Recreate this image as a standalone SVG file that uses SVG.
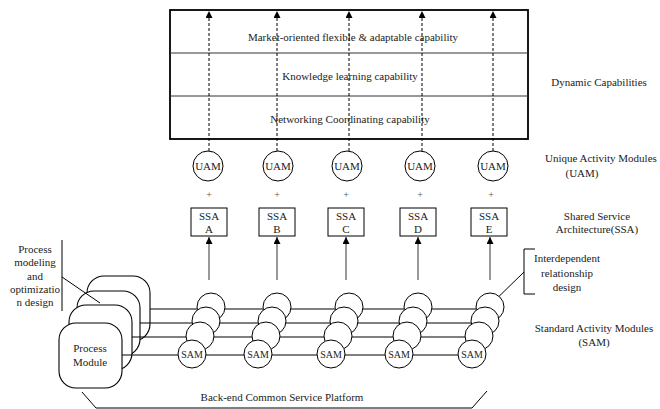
<svg xmlns="http://www.w3.org/2000/svg" width="660" height="409" viewBox="0 0 660 409">
<style>
text{font-family:"Liberation Serif","Times New Roman",serif;font-size:11px;fill:#222;text-anchor:middle}
.sm{font-size:10px}
.ln{stroke:#000;stroke-width:1;fill:none}
.gl{stroke:#555;stroke-width:1.2;fill:none}
.dash{stroke:#000;stroke-width:1;stroke-dasharray:3,2;fill:none}
.c{fill:#fff;stroke:#000;stroke-width:1}
.pm{fill:#fff;stroke:#000;stroke-width:1.1}
</style>
<defs>
<marker id="ah" viewBox="0 0 8 8" refX="8" refY="4" markerWidth="7" markerHeight="7" markerUnits="userSpaceOnUse" orient="auto">
<path d="M0,0 L8,4 L0,8 Z" fill="#000"/>
</marker>
</defs>
<rect width="660" height="409" fill="#fff"/>

<g id="capabilities">
<rect x="170" y="10" width="358" height="129" fill="#fff" stroke="#000" stroke-width="1.8"/>
<line x1="170" y1="53" x2="528" y2="53" stroke="#333" stroke-width="1"/>
<line x1="170" y1="96" x2="528" y2="96" stroke="#333" stroke-width="1"/>
<text x="353" y="41">Market-oriented flexible &amp; adaptable capability</text>
<text x="350" y="80">Knowledge learning capability</text>
<text x="350" y="123">Networking Coordinating capability</text>
</g>

<g id="labels-right">
<text x="599" y="86">Dynamic Capabilities</text>
<text x="545" y="162" style="text-anchor:start">Unique Activity Modules</text>
<text x="582" y="177">(UAM)</text>
<text x="597" y="220">Shared Service</text>
<text x="597" y="233">Architecture(SSA)</text>
<text x="594" y="332">Standard Activity Modules</text>
<text x="594" y="346">(SAM)</text>
</g>

<g id="uam">
<g id="uam-a"><circle class="c" cx="208" cy="166" r="15"/><text x="208" y="170">UAM</text></g>
<g id="uam-b"><circle class="c" cx="278" cy="166" r="15"/><text x="278" y="170">UAM</text></g>
<g id="uam-c"><circle class="c" cx="347" cy="166" r="15"/><text x="347" y="170">UAM</text></g>
<g id="uam-d"><circle class="c" cx="420" cy="166" r="15"/><text x="420" y="170">UAM</text></g>
<g id="uam-e"><circle class="c" cx="493" cy="166" r="15"/><text x="493" y="170">UAM</text></g>
</g>

<g id="plus">
<text class="sm" x="209" y="198" style="fill:#555">+</text>
<text class="sm" x="277" y="198" style="fill:#555">+</text>
<text class="sm" x="346" y="198" style="fill:#555">+</text>
<text class="sm" x="420" y="198" style="fill:#555">+</text>
<text class="sm" x="491" y="198" style="fill:#555">+</text>
</g>

<g id="ssa">
<g id="ssa-a"><rect class="c" x="191" y="208" width="36" height="28"/><text x="209" y="220">SSA</text><text x="209" y="233">A</text></g>
<g id="ssa-b"><rect class="c" x="259" y="208" width="36" height="28"/><text x="277" y="220">SSA</text><text x="277" y="233">B</text></g>
<g id="ssa-c"><rect class="c" x="328" y="208" width="36" height="28"/><text x="346" y="220">SSA</text><text x="346" y="233">C</text></g>
<g id="ssa-d"><rect class="c" x="400" y="208" width="36" height="28"/><text x="418" y="220">SSA</text><text x="418" y="233">D</text></g>
<g id="ssa-e"><rect class="c" x="471" y="208" width="36" height="28"/><text x="489" y="220">SSA</text><text x="489" y="233">E</text></g>
</g>

<g id="process-modules">
<rect class="pm" x="87" y="276" width="63" height="65" rx="17"/>
<rect class="pm" x="77" y="291" width="63" height="65" rx="17"/>
<rect class="pm" x="69" y="305" width="63" height="65" rx="17"/>
<g id="process-module">
<rect class="pm" x="59" y="323" width="63" height="65" rx="17"/>
<text x="90" y="352">Process</text>
<text x="90" y="366">Module</text>
</g>
</g>

<g id="annotation-left">
<text x="35" y="253">Process</text>
<text x="35" y="266">modeling</text>
<text x="35" y="280">and</text>
<text x="35" y="293">optimizatio</text>
<text x="35" y="306">n design</text>
<line class="ln" x1="62" y1="240" x2="62" y2="311"/>
<line class="ln" x1="62" y1="277" x2="100" y2="303"/>
</g>

<g id="annotation-right">
<path class="ln" d="M535,249 H524 V294 H535"/>
<line class="ln" x1="524" y1="272" x2="485" y2="310"/>
<text x="567" y="262">Interdependent</text>
<text x="567" y="277">relationship</text>
<text x="567" y="291">design</text>
</g>

<g id="connectors">
<line class="dash" x1="209" y1="151" x2="209" y2="11" marker-end="url(#ah)"/>
<line class="dash" x1="277" y1="151" x2="277" y2="11" marker-end="url(#ah)"/>
<line class="dash" x1="349" y1="151" x2="349" y2="11" marker-end="url(#ah)"/>
<line class="dash" x1="422" y1="151" x2="422" y2="11" marker-end="url(#ah)"/>
<line class="dash" x1="493" y1="151" x2="493" y2="11" marker-end="url(#ah)"/>
<line class="gl" x1="209" y1="280" x2="209" y2="237" marker-end="url(#ah)"/>
<line class="gl" x1="277" y1="280" x2="277" y2="237" marker-end="url(#ah)"/>
<line class="gl" x1="346" y1="280" x2="346" y2="237" marker-end="url(#ah)"/>
<line class="gl" x1="418" y1="280" x2="418" y2="237" marker-end="url(#ah)"/>
<line class="gl" x1="490" y1="280" x2="490" y2="237" marker-end="url(#ah)"/>
<line class="ln" x1="150" y1="309" x2="490" y2="309"/>
<line class="ln" x1="140" y1="323" x2="485" y2="323"/>
<line class="ln" x1="132" y1="337" x2="479" y2="337"/>
<line class="ln" x1="122" y1="355" x2="471" y2="355"/>
<path d="M82,392 L96,408 L472,408 L487,391" fill="none" stroke="#000" stroke-width="1"/>
</g>

<g id="sam">
<g id="sam-a"><circle class="c" cx="211" cy="307" r="14"/><circle class="c" cx="206" cy="321" r="14"/><circle class="c" cx="200" cy="336" r="14"/><circle class="c" cx="192" cy="354" r="14"/><text class="sm" x="192" y="358">SAM</text></g>
<g id="sam-b"><circle class="c" cx="277" cy="307" r="14"/><circle class="c" cx="272" cy="321" r="14"/><circle class="c" cx="266" cy="336" r="14"/><circle class="c" cx="258" cy="354" r="14"/><text class="sm" x="258" y="358">SAM</text></g>
<g id="sam-c"><circle class="c" cx="349" cy="307" r="14"/><circle class="c" cx="344" cy="321" r="14"/><circle class="c" cx="338" cy="336" r="14"/><circle class="c" cx="331" cy="354" r="14"/><text class="sm" x="331" y="358">SAM</text></g>
<g id="sam-d"><circle class="c" cx="418" cy="307" r="14"/><circle class="c" cx="413" cy="321" r="14"/><circle class="c" cx="407" cy="336" r="14"/><circle class="c" cx="399" cy="354" r="14"/><text class="sm" x="399" y="358">SAM</text></g>
<g id="sam-e"><circle class="c" cx="490" cy="307" r="14"/><circle class="c" cx="485" cy="321" r="14"/><circle class="c" cx="479" cy="336" r="14"/><circle class="c" cx="472" cy="354" r="14"/><text class="sm" x="472" y="358">SAM</text></g>
</g>

<g id="platform">
<text x="282" y="401">Back-end Common Service Platform</text>
</g>
</svg>
